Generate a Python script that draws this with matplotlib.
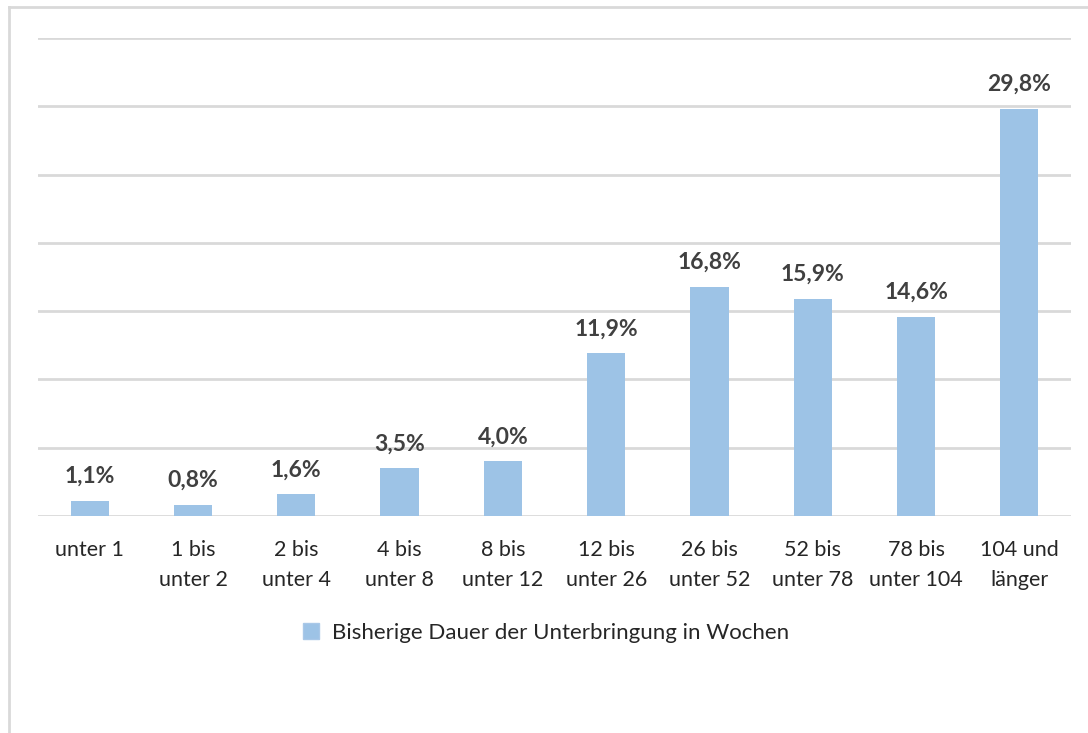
import matplotlib
matplotlib.use("Agg")
import matplotlib.pyplot as plt
from matplotlib.lines import Line2D
from matplotlib.patches import Patch

categories = ["unter 1", "1 bis\nunter 2", "2 bis\nunter 4", "4 bis\nunter 8", "8 bis\nunter 12",
              "12 bis\nunter 26", "26 bis\nunter 52", "52 bis\nunter 78", "78 bis\nunter 104", "104 und\nlänger"]
values = [1.1, 0.8, 1.6, 3.5, 4.0, 11.9, 16.8, 15.9, 14.6, 29.8]
series_name = "Bisherige Dauer der Unterbringung in Wochen"

plt.rcParams['font.family'] = ['Lato', 'DejaVu Sans']

fig = plt.figure(figsize=(10.88, 7.33), dpi=100)
ax = fig.add_axes([38/1088, 1-516/733, (1071-38)/1088, (516-38)/733])

bar_color = "#9DC3E6"
x = list(range(len(categories)))
ax.bar(x, values, width=0.37, color=bar_color, zorder=3)
ax.set_xlim(-0.5, len(categories)-0.5)
ax.set_ylim(0, 35)
ax.set_yticks([0, 5, 10, 15, 20, 25, 30, 35])
ax.yaxis.grid(True, color="#D9D9D9", linewidth=2, zorder=0)
ax.tick_params(axis='y', left=False, labelleft=False)
ax.tick_params(axis='x', bottom=False, pad=14)
for s in ax.spines.values():
    s.set_visible(False)
ax.set_xticks(x)
ax.set_xticklabels(categories, fontsize=15.5, color="#262626", linespacing=1.6)

for xi, v in zip(x, values):
    ax.annotate(f"{v:.1f}%".replace(".", ","), (xi, v), xytext=(0, 10), textcoords="offset points",
                ha="center", va="bottom", fontsize=16.5, fontweight="bold", color="#404040")

handle = Patch(facecolor=bar_color, edgecolor="#A9C8E8")
fig.legend([handle], [series_name], loc="center", bbox_to_anchor=(546/1088, 1-633/733),
           frameon=False, fontsize=16, handlelength=0.7, handleheight=0.7, handletextpad=0.6,
           labelcolor="#262626")

# chart area border (top and left visible)
fig.add_artist(Line2D([9/1088, 9/1088], [0, 1-7/733], color="#D9D9D9", linewidth=2, transform=fig.transFigure))
fig.add_artist(Line2D([9/1088, 1], [1-7/733, 1-7/733], color="#D9D9D9", linewidth=2, transform=fig.transFigure))

fig.savefig("out.png", dpi=100)
